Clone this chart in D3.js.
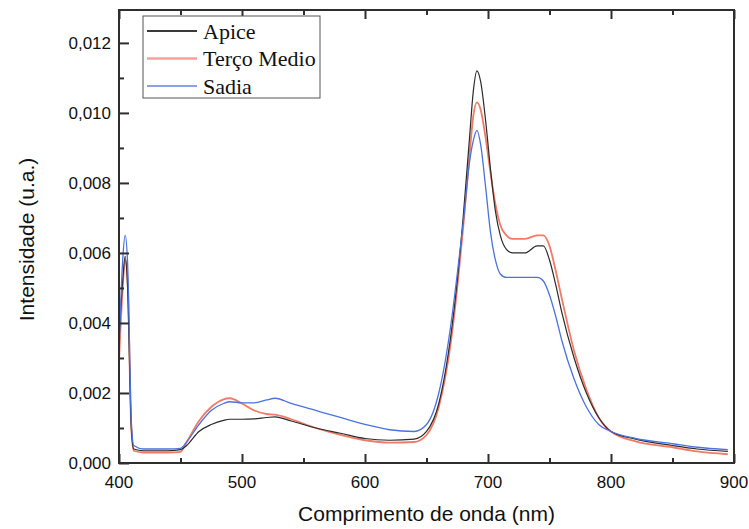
<!DOCTYPE html>
<html>
<head>
<meta charset="utf-8">
<script src="https://cdn.jsdelivr.net/npm/d3@7"></script>
<style>
  body { margin: 0; background: #fff; overflow: hidden; }
  svg { display: block; }
</style>
</head>
<body>
<svg id="chart" width="749" height="529"></svg>
<script>
// wavelength samples (nm)
const wavelengths = [400, 403, 405, 407, 410, 412, 420, 440, 450, 455, 465, 475, 485, 490, 500, 510, 520, 527, 540, 560, 580, 600, 620, 640, 650, 660, 670, 675, 680, 685, 688, 691, 694, 698, 702, 706, 710, 715, 720, 730, 740, 745, 750, 755, 760, 770, 780, 790, 800, 820, 850, 870, 895];

const apice = [0.0035, 0.0052, 0.0059, 0.0050, 0.0010, 0.0004, 0.00035, 0.00035, 0.00038, 0.0005, 0.0009, 0.0011, 0.00122, 0.00125, 0.00125, 0.00126, 0.0013, 0.00132, 0.0012, 0.001, 0.00085, 0.0007, 0.00065, 0.00068, 0.0009, 0.0017, 0.0037, 0.0052, 0.0071, 0.0093, 0.0106, 0.0112, 0.0109, 0.0098, 0.0084, 0.0072, 0.0065, 0.0061, 0.006, 0.006, 0.0062, 0.0062, 0.0058, 0.0051, 0.0043, 0.003, 0.002, 0.0013, 0.0009, 0.00068, 0.0005, 0.0004, 0.00033];

const tercoMedio = [0.0029, 0.0050, 0.0058, 0.0052, 0.0010, 0.00035, 0.0003, 0.0003, 0.00032, 0.0006, 0.0012, 0.0016, 0.00182, 0.00185, 0.0017, 0.0015, 0.0014, 0.00138, 0.00125, 0.001, 0.0008, 0.00065, 0.00058, 0.0006, 0.0008, 0.0016, 0.0035, 0.005, 0.0068, 0.0088, 0.0099, 0.0103, 0.0101, 0.0093, 0.0083, 0.0074, 0.0068, 0.0065, 0.0064, 0.0064, 0.0065, 0.0065, 0.0062, 0.0055, 0.0047, 0.0032, 0.0021, 0.0013, 0.0009, 0.00062, 0.00045, 0.00033, 0.00025];

const sadia = [0.0032, 0.0058, 0.0065, 0.0057, 0.0012, 0.0005, 0.0004, 0.0004, 0.00042, 0.0006, 0.0011, 0.0015, 0.0017, 0.00175, 0.00172, 0.00172, 0.0018, 0.00185, 0.0017, 0.0015, 0.0013, 0.0011, 0.00095, 0.0009, 0.0011, 0.002, 0.004, 0.0054, 0.0069, 0.0086, 0.0092, 0.0095, 0.0091, 0.0079, 0.0066, 0.0058, 0.0054, 0.0053, 0.0053, 0.0053, 0.0053, 0.0052, 0.0048, 0.0042, 0.0035, 0.0024, 0.0016, 0.0011, 0.0009, 0.0007, 0.00055, 0.00045, 0.00038];

const seriesNames = ['Apice', 'Terço Medio', 'Sadia'];
const xTicks = [400, 500, 600, 700, 800, 900];
const xMinorTicks = [450, 550, 650, 750, 850];
const yTicks = [0, 0.002, 0.004, 0.006, 0.008, 0.010, 0.012];
const yMinorTicks = [0.001, 0.003, 0.005, 0.007, 0.009, 0.011];

const series = [
  { name: seriesNames[0], values: apice, color: '#2b2b2b', legend: '#3a3a3a', width: 1.2 },
  { name: seriesNames[1], values: tercoMedio, color: '#f27a66', legend: '#ff9c9c', width: 1.8 },
  { name: seriesNames[2], values: sadia, color: '#4a72e0', legend: '#8fa0e6', width: 1.3 }
];

const svg = d3.select('#chart');
const margin = { top: 10, right: 15, bottom: 66, left: 119 };
const width = 749, height = 529;
const innerWidth = width - margin.left - margin.right;
const innerHeight = height - margin.top - margin.bottom;

// scales in page coordinates
const xScale = d3.scaleLinear().domain([400, 900]).range([margin.left, margin.left + innerWidth]);
const yScale = d3.scaleLinear().domain([0, 0.01294]).range([margin.top + innerHeight, margin.top]);

// curves
const line = d3.line()
  .x((d, i) => xScale(wavelengths[i]))
  .y(d => yScale(d))
  .curve(d3.curveMonotoneX);

// red first, then black, blue on top
[series[1], series[0], series[2]].forEach(s => {
  svg.append('path')
    .datum(s.values)
    .attr('fill', 'none')
    .attr('stroke', s.color)
    .attr('stroke-width', s.width)
    .attr('d', line);
});

const axisColor = '#2e2e2e';
const fmt = v => d3.format('.3f')(v).replace('.', ',');
const sans = '"Liberation Sans", Arial, sans-serif';

// tick marks (inward), labels added below as plain text
const ticks = svg.append('g');
ticks.append('g').attr('transform', `translate(0,${margin.top + innerHeight})`)
  .call(d3.axisBottom(xScale).tickValues(xTicks).tickSize(-9).tickFormat(''));
ticks.append('g').attr('transform', `translate(0,${margin.top + innerHeight})`)
  .call(d3.axisBottom(xScale).tickValues(xMinorTicks).tickSize(-5).tickFormat(''));
ticks.append('g').attr('transform', `translate(0,${margin.top})`)
  .call(d3.axisTop(xScale).tickValues(xTicks).tickSize(-9).tickFormat(''));
ticks.append('g').attr('transform', `translate(0,${margin.top})`)
  .call(d3.axisTop(xScale).tickValues(xMinorTicks).tickSize(-5).tickFormat(''));
ticks.append('g').attr('transform', `translate(${margin.left},0)`)
  .call(d3.axisLeft(yScale).tickValues(yTicks).tickSize(-10).tickFormat(''));
ticks.append('g').attr('transform', `translate(${margin.left},0)`)
  .call(d3.axisLeft(yScale).tickValues(yMinorTicks).tickSize(-5).tickFormat(''));
ticks.selectAll('.domain').remove();
ticks.selectAll('.tick line').attr('stroke', axisColor).attr('stroke-width', 2);
ticks.selectAll('.tick text').remove();

// tick labels
svg.append('g').selectAll('text')
  .data(xTicks)
  .join('text')
  .attr('x', d => xScale(d))
  .attr('y', margin.top + innerHeight + 25)
  .attr('text-anchor', 'middle')
  .style('font-family', sans)
  .style('font-size', '17px')
  .attr('fill', '#111')
  .text(d => d);

svg.append('g').selectAll('text')
  .data(yTicks)
  .join('text')
  .attr('x', margin.left - 8)
  .attr('y', d => yScale(d) + 6)
  .attr('text-anchor', 'end')
  .style('font-family', sans)
  .style('font-size', '17px')
  .attr('fill', '#111')
  .text(fmt);

// frame
svg.append('rect')
  .attr('x', margin.left).attr('y', margin.top)
  .attr('width', innerWidth).attr('height', innerHeight)
  .attr('fill', 'none')
  .attr('stroke', axisColor)
  .attr('stroke-width', 2);

// axis titles
svg.append('text')
  .attr('x', margin.left + innerWidth / 2)
  .attr('y', 521)
  .attr('text-anchor', 'middle')
  .style('font-family', sans)
  .style('font-size', '21px')
  .attr('fill', '#111')
  .text('Comprimento de onda (nm)');

const yTitleY = margin.top + innerHeight / 2 + 3;
svg.append('text')
  .attr('x', 34).attr('y', yTitleY)
  .attr('transform', `rotate(-90,34,${yTitleY})`)
  .attr('text-anchor', 'middle')
  .style('font-family', sans)
  .style('font-size', '21px')
  .attr('fill', '#111')
  .text('Intensidade (u.a.)');

// legend
const legend = svg.append('g').attr('transform', 'translate(143,16)');
legend.append('rect')
  .attr('width', 177).attr('height', 82)
  .attr('fill', '#fff')
  .attr('stroke', '#555')
  .attr('stroke-width', 1);

series.forEach((s, i) => {
  const row = legend.append('g').attr('transform', `translate(0,${15 + i * 27.5})`);
  row.append('line')
    .attr('x1', 4).attr('x2', 54)
    .attr('y1', 0).attr('y2', 0)
    .attr('stroke', s.legend)
    .attr('stroke-width', s.width + 0.6);
  row.append('text')
    .attr('x', 60).attr('y', 7.5)
    .style('font-family', '"Liberation Serif", "Times New Roman", serif')
    .style('font-size', '22px')
    .attr('fill', '#111')
    .text(s.name);
});
</script>
</body>
</html>
